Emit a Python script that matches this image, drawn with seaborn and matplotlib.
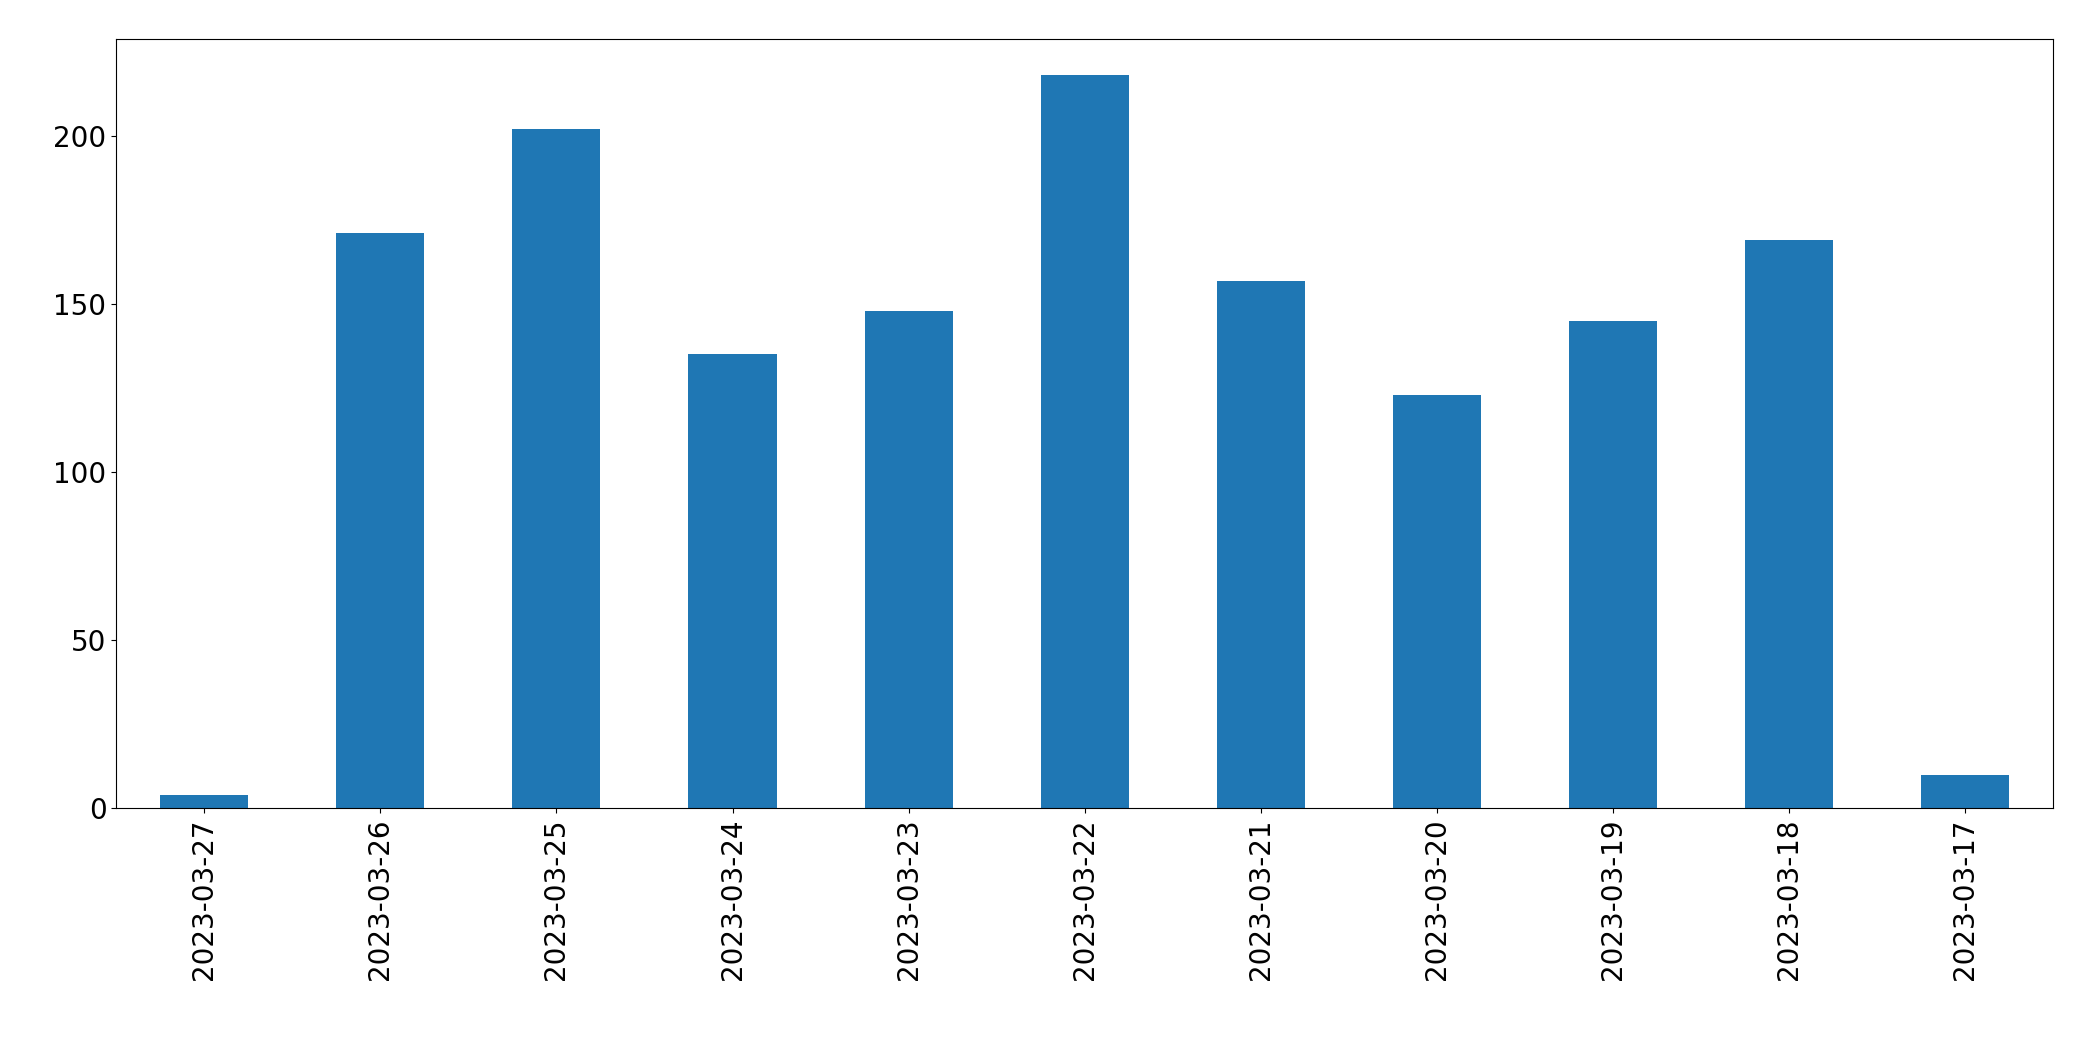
import matplotlib
matplotlib.use("Agg")
import matplotlib.pyplot as plt
import seaborn as sns
import pandas as pd

dates = ["2023-03-27", "2023-03-26", "2023-03-25", "2023-03-24", "2023-03-23",
         "2023-03-22", "2023-03-21", "2023-03-20", "2023-03-19", "2023-03-18",
         "2023-03-17"]
counts = [4, 171, 202, 135, 148, 218, 157, 123, 145, 169, 10]

df = pd.DataFrame({"date": dates, "count": counts})

fig = plt.figure(figsize=(20.93, 10.61), dpi=100)
ax = fig.add_axes([0.0555, 0.238, 0.9255, 0.7255])
sns.barplot(data=df, x="date", y="count", order=dates, color="#1f77b4",
            saturation=1, width=0.5, ax=ax)
ax.set_xlim(-0.5, len(dates) - 0.5)
ax.set_xlabel("")
ax.set_ylabel("")
ax.set_yticks([0, 50, 100, 150, 200])
ax.tick_params(axis="both", labelsize=20)
ax.tick_params(axis="x", labelrotation=90)
fig.savefig("out.png", dpi=100)
